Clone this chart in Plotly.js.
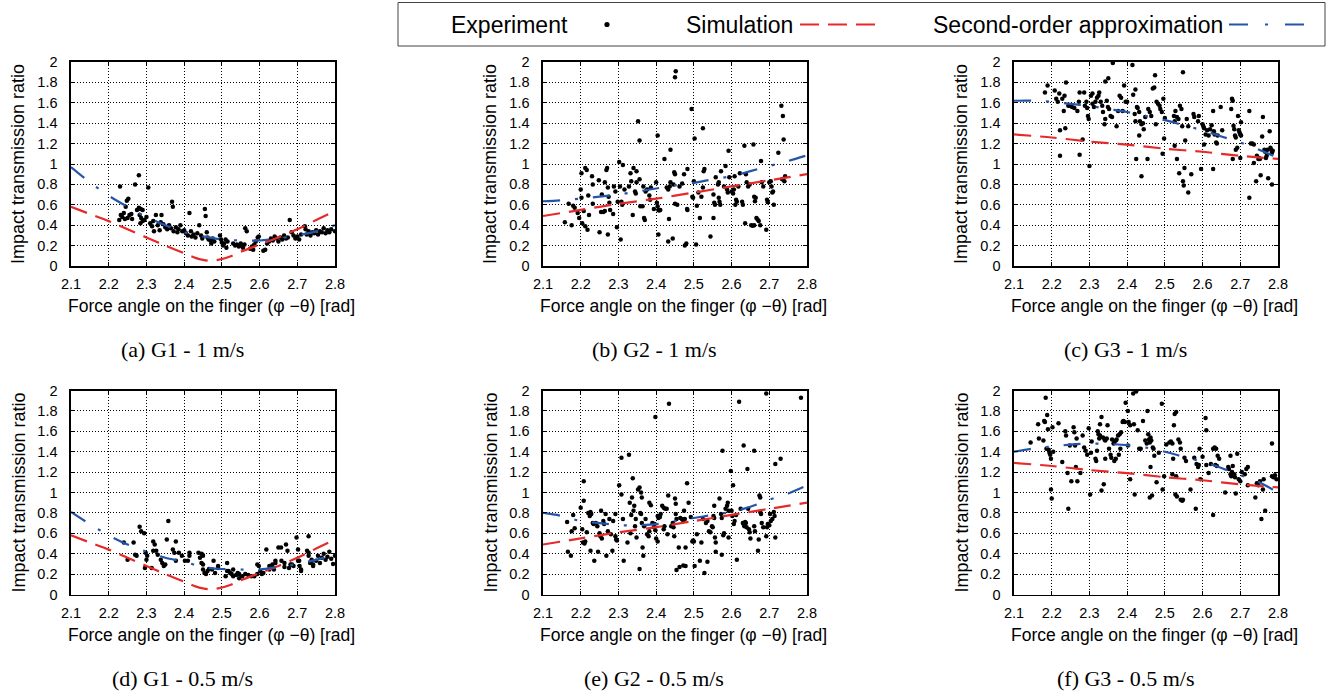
<!DOCTYPE html>
<html><head><meta charset="utf-8">
<script src="https://cdn.plot.ly/plotly-3.0.1.min.js"></script>
<style>
html,body{margin:0;padding:0;background:#fff;overflow:hidden}
#plot{width:1332px;height:693px}
</style></head>
<body><div id="plot"></div>
<script>
// ---------------- DATA ----------------
const CAPTIONS = ["(a) G1 - 1 m/s","(b) G2 - 1 m/s","(c) G3 - 1 m/s","(d) G1 - 0.5 m/s","(e) G2 - 0.5 m/s","(f) G3 - 0.5 m/s"];
const X_TITLE = "Force angle on the finger (\u03c6 \u2212\u03b8) [rad]";
const Y_TITLE = "Impact transmission ratio";
const LEGEND_LABELS = ["Experiment","Simulation","Second-order approximation"];

// Simulation curves
const SIM_G1_X = [2.1,2.15,2.2,2.25,2.3,2.35,2.4,2.43,2.45,2.47,2.49,2.52,2.55,2.6,2.65,2.7,2.75,2.8];
const SIM_G1_Y = [0.58,0.51,0.44,0.36,0.28,0.20,0.125,0.08,0.06,0.05,0.06,0.09,0.14,0.21,0.28,0.36,0.45,0.54];
const SIM_X = [2.1,2.2,2.3,2.4,2.5,2.6,2.7,2.8];
const SIM_G2_Y = [0.49,0.55,0.61,0.66,0.72,0.78,0.84,0.90];
const SIM_G3_Y = [1.29,1.26,1.22,1.19,1.15,1.12,1.08,1.05];

// Second-order approximation curves
const APX_X = [2.1,2.15,2.2,2.25,2.3,2.35,2.4,2.45,2.5,2.55,2.6,2.65,2.7,2.75,2.8];
const APX_A = [0.97,0.82,0.69,0.58,0.48,0.40,0.33,0.29,0.26,0.25,0.25,0.27,0.30,0.34,0.40];
const APX_B = [0.635,0.645,0.66,0.68,0.70,0.73,0.76,0.79,0.815,0.85,0.88,0.93,0.98,1.03,1.085];
const APX_C = [1.62,1.62,1.61,1.59,1.57,1.54,1.51,1.47,1.43,1.38,1.33,1.27,1.21,1.14,1.06];
const APX_D = [0.81,0.69,0.58,0.49,0.42,0.36,0.32,0.27,0.25,0.245,0.245,0.27,0.30,0.34,0.39];
const APX_E = [0.80,0.77,0.72,0.70,0.68,0.68,0.69,0.72,0.75,0.78,0.81,0.86,0.93,0.99,1.07];
const APX_F = [1.40,1.43,1.45,1.47,1.48,1.475,1.465,1.44,1.40,1.35,1.30,1.24,1.17,1.10,1.00];

// Experiment points [angle, ratio]
const EXP_A = [[2.23,0.78],[2.27,0.80],[2.28,0.89],[2.305,0.77],
[2.228,0.45],[2.232,0.50],[2.236,0.48],[2.24,0.52],[2.245,0.58],[2.248,0.64],[2.252,0.66],[2.243,0.46],[2.25,0.47],[2.255,0.50],[2.26,0.51],[2.262,0.46],
[2.275,0.55],[2.28,0.57],[2.285,0.56],[2.29,0.55],[2.282,0.50],[2.286,0.47],[2.29,0.44],[2.295,0.45],[2.30,0.48],[2.284,0.42],
[2.31,0.42],[2.315,0.39],[2.32,0.34],[2.325,0.50],[2.318,0.44],[2.33,0.40],[2.335,0.35],[2.34,0.50],[2.345,0.41],[2.35,0.38],[2.338,0.43],
[2.355,0.36],[2.36,0.40],[2.365,0.37],[2.368,0.63],[2.37,0.58],[2.372,0.34],[2.378,0.38],[2.382,0.33],[2.385,0.36],[2.39,0.40],[2.395,0.34],
[2.40,0.35],[2.405,0.32],[2.41,0.30],[2.414,0.52],[2.418,0.34],[2.42,0.29],[2.425,0.31],[2.43,0.28],[2.435,0.32],[2.44,0.40],[2.445,0.30],[2.448,0.27],
[2.455,0.56],[2.457,0.49],[2.46,0.33],[2.462,0.28],[2.465,0.26],[2.47,0.25],[2.472,0.22],[2.476,0.27],[2.48,0.24],
[2.495,0.30],[2.498,0.26],[2.50,0.23],[2.503,0.20],[2.506,0.22],[2.51,0.26],[2.512,0.18],[2.515,0.24],
[2.53,0.22],[2.535,0.20],[2.54,0.21],[2.545,0.19],[2.55,0.22],[2.553,0.20],[2.556,0.18],[2.56,0.21],[2.562,0.37],[2.566,0.34],
[2.575,0.17],[2.58,0.19],[2.583,0.16],[2.586,0.21],[2.59,0.24],[2.595,0.28],[2.598,0.29],
[2.61,0.15],[2.615,0.16],[2.62,0.22],[2.625,0.24],[2.63,0.27],[2.635,0.25],[2.64,0.29],[2.645,0.27],[2.65,0.24],[2.655,0.28],[2.66,0.26],
[2.665,0.30],[2.67,0.27],[2.675,0.28],[2.68,0.45],[2.685,0.33],[2.69,0.30],[2.695,0.27],[2.70,0.29],[2.705,0.26],[2.71,0.31],
[2.72,0.39],[2.722,0.36],[2.725,0.31],[2.73,0.34],[2.735,0.30],[2.74,0.33],[2.745,0.32],[2.75,0.35],[2.755,0.31],[2.76,0.34],[2.765,0.33],[2.77,0.37],[2.775,0.32],[2.78,0.35],[2.785,0.33],[2.79,0.36],[2.8,0.34]];

const EXP_B = [[2.158,0.43],[2.168,0.61],[2.18,0.59],[2.184,0.57],[2.176,0.40],[2.192,0.52],[2.196,0.47],[2.20,0.75],[2.202,0.67],[2.204,0.42],
[2.202,0.91],[2.212,0.96],[2.216,0.94],[2.208,0.54],[2.212,0.39],[2.218,0.355],[2.22,0.69],[2.222,0.50],[2.23,0.88],[2.232,0.80],[2.232,0.61],
[2.248,0.84],[2.25,0.33],[2.254,0.53],[2.26,0.53],[2.264,0.54],[2.256,0.70],[2.264,0.82],[2.268,0.94],[2.27,0.96],[2.272,0.31],[2.272,0.77],
[2.274,0.68],[2.276,0.62],[2.278,0.55],[2.286,0.51],[2.288,0.78],[2.292,0.73],[2.296,0.38],[2.298,0.63],[2.302,1.02],[2.304,0.78],[2.306,0.26],
[2.308,0.63],[2.31,0.60],[2.312,0.99],[2.316,0.75],[2.328,0.78],[2.332,0.91],[2.334,0.83],[2.338,0.50],[2.34,0.96],[2.344,0.73],[2.346,0.71],
[2.348,0.93],[2.348,0.82],[2.352,1.42],[2.356,1.23],[2.356,0.85],[2.358,0.585],[2.364,0.585],[2.368,0.47],[2.37,0.45],[2.366,0.78],[2.372,0.73],
[2.376,0.75],[2.382,0.69],[2.386,0.77],[2.384,0.65],[2.394,0.56],[2.40,0.82],[2.402,0.62],[2.404,0.585],[2.406,0.55],[2.408,0.545],[2.411,0.55],
[2.404,1.28],[2.406,0.31],[2.422,1.05],[2.428,0.77],[2.432,0.75],[2.436,0.78],[2.438,0.82],[2.434,0.46],[2.432,0.24],[2.438,1.14],[2.444,0.27],
[2.446,0.80],[2.448,0.92],[2.45,0.90],[2.45,1.85],[2.452,1.91],[2.45,0.61],[2.456,0.60],[2.462,0.78],[2.469,0.81],[2.474,0.90],[2.476,0.20],
[2.48,0.22],[2.482,0.56],[2.483,0.55],[2.483,0.95],[2.494,1.54],[2.496,0.68],[2.498,0.67],[2.50,0.83],[2.502,1.25],[2.506,0.21],[2.508,0.59],
[2.512,0.72],[2.516,0.47],[2.52,0.68],[2.524,0.77],[2.524,1.35],[2.526,0.93],[2.528,0.95],[2.544,0.29],[2.552,0.47],[2.552,0.70],[2.554,0.62],
[2.556,0.60],[2.558,0.87],[2.564,0.80],[2.566,0.82],[2.566,0.67],[2.568,0.63],[2.57,0.60],[2.572,0.93],[2.58,0.78],[2.584,0.98],[2.588,0.75],
[2.59,0.72],[2.592,1.13],[2.594,0.87],[2.60,0.73],[2.604,0.71],[2.606,0.75],[2.608,0.88],[2.61,0.60],[2.612,0.65],[2.614,0.63],[2.618,0.78],
[2.622,0.91],[2.628,0.63],[2.63,0.60],[2.634,1.18],[2.636,0.42],[2.638,0.90],[2.64,0.82],[2.644,0.78],[2.648,0.80],[2.652,0.40],[2.656,0.395],
[2.66,0.40],[2.658,1.19],[2.66,0.68],[2.662,0.635],[2.664,0.67],[2.666,0.47],[2.669,0.455],[2.672,0.44],[2.676,0.40],[2.678,1.03],[2.68,0.82],
[2.684,0.78],[2.692,0.355],[2.694,0.65],[2.696,0.625],[2.70,0.82],[2.704,0.83],[2.706,0.78],[2.708,0.72],[2.71,0.73],[2.712,0.60],[2.724,1.11],
[2.732,1.57],[2.736,1.47],[2.738,1.24],[2.734,0.85],[2.74,0.83],[2.742,0.88]];

const EXP_C = [[2.182,1.70],[2.189,1.77],[2.208,1.72],[2.212,1.64],[2.216,1.61],[2.22,1.69],[2.222,1.33],[2.222,1.08],[2.228,1.64],[2.234,1.67],
[2.232,1.52],[2.236,1.35],[2.238,1.80],[2.244,1.57],[2.248,1.57],[2.254,1.56],[2.26,1.55],[2.268,1.52],[2.272,1.61],[2.274,1.70],[2.274,1.09],
[2.282,1.24],[2.286,1.70],[2.288,1.57],[2.292,1.61],[2.294,1.55],[2.296,1.47],[2.298,1.44],[2.30,0.98],[2.304,1.67],[2.308,1.69],[2.308,1.59],
[2.312,1.56],[2.316,1.61],[2.32,1.65],[2.324,1.67],[2.326,1.70],[2.33,1.61],[2.334,1.57],[2.336,1.51],[2.34,1.39],[2.342,1.44],[2.342,1.81],
[2.35,1.84],[2.346,1.62],[2.349,1.56],[2.352,1.54],[2.356,1.47],[2.362,1.99],[2.36,1.46],[2.372,1.37],[2.376,1.52],[2.38,1.67],[2.384,1.65],
[2.388,1.52],[2.392,1.77],[2.396,1.61],[2.40,1.61],[2.414,1.97],[2.416,1.68],[2.42,1.49],[2.422,1.42],[2.422,1.73],[2.424,1.05],[2.426,1.56],
[2.428,1.55],[2.432,1.51],[2.434,1.42],[2.438,1.39],[2.442,1.40],[2.444,1.34],[2.432,1.28],[2.438,0.88],[2.448,1.46],[2.454,1.05],[2.456,1.54],
[2.46,1.51],[2.464,1.47],[2.468,1.74],[2.472,1.75],[2.474,1.87],[2.476,1.39],[2.478,1.61],[2.482,1.59],[2.486,1.57],[2.488,1.54],[2.492,1.51],
[2.494,1.10],[2.496,1.64],[2.498,1.25],[2.50,1.45],[2.524,1.47],[2.526,1.42],[2.528,1.52],[2.532,1.46],[2.536,1.44],[2.526,1.18],[2.532,1.05],
[2.538,0.91],[2.54,1.57],[2.544,1.54],[2.546,1.37],[2.548,1.90],[2.548,0.83],[2.55,0.79],[2.552,0.96],[2.554,1.23],[2.558,1.44],[2.562,1.37],
[2.562,0.72],[2.57,0.90],[2.576,1.49],[2.578,1.46],[2.588,1.42],[2.59,1.47],[2.596,0.95],[2.60,1.39],[2.602,1.37],[2.604,1.35],[2.604,1.19],
[2.608,1.29],[2.612,1.33],[2.616,1.28],[2.62,1.34],[2.624,1.38],[2.628,1.52],[2.628,0.95],[2.63,1.32],[2.632,1.29],[2.636,1.21],[2.638,1.20],
[2.64,1.28],[2.648,1.56],[2.652,1.33],[2.676,1.54],[2.678,1.64],[2.68,1.62],[2.68,1.05],[2.682,1.375],[2.684,1.34],[2.686,1.28],[2.688,1.26],
[2.688,1.14],[2.692,1.16],[2.694,1.47],[2.696,1.33],[2.698,1.31],[2.70,1.29],[2.702,1.28],[2.70,1.06],[2.702,1.41],[2.724,1.52],[2.724,0.67],
[2.728,1.20],[2.732,1.20],[2.736,1.19],[2.736,1.01],[2.742,0.83],[2.744,1.08],[2.748,1.05],[2.75,1.06],[2.752,1.05],[2.754,0.89],[2.76,1.46],
[2.758,1.27],[2.764,1.14],[2.766,1.12],[2.768,1.06],[2.77,1.08],[2.772,1.14],[2.774,0.86],[2.778,1.32],[2.78,1.16],[2.782,1.14],[2.784,1.11],
[2.786,1.13],[2.784,0.80]];

const EXP_D = [[2.282,0.665],[2.286,0.62],[2.294,0.60],[2.266,0.51],[2.27,0.39],[2.274,0.38],[2.25,0.34],[2.24,0.51],[2.298,0.41],[2.302,0.38],
[2.30,0.34],[2.296,0.26],[2.314,0.26],[2.318,0.52],[2.322,0.49],[2.318,0.43],[2.326,0.43],[2.33,0.39],[2.338,0.34],[2.342,0.31],[2.346,0.28],
[2.35,0.295],[2.354,0.54],[2.358,0.72],[2.37,0.44],[2.374,0.41],[2.378,0.33],[2.386,0.41],[2.378,0.52],[2.394,0.38],[2.402,0.33],[2.41,0.33],
[2.414,0.41],[2.414,0.38],[2.438,0.41],[2.446,0.40],[2.449,0.39],[2.442,0.36],[2.45,0.38],[2.446,0.31],[2.45,0.295],[2.45,0.245],[2.454,0.21],
[2.458,0.20],[2.462,0.23],[2.466,0.25],[2.474,0.245],[2.478,0.33],[2.482,0.21],[2.49,0.28],[2.49,0.26],[2.51,0.18],[2.514,0.31],[2.514,0.23],
[2.518,0.23],[2.522,0.21],[2.526,0.20],[2.53,0.18],[2.53,0.245],[2.538,0.19],[2.542,0.21],[2.546,0.16],[2.546,0.20],[2.554,0.18],[2.562,0.20],
[2.57,0.19],[2.578,0.18],[2.586,0.18],[2.594,0.295],[2.598,0.28],[2.594,0.20],[2.602,0.23],[2.606,0.20],[2.61,0.21],[2.618,0.44],[2.626,0.28],
[2.626,0.245],[2.634,0.295],[2.634,0.27],[2.638,0.245],[2.642,0.33],[2.642,0.31],[2.65,0.46],[2.657,0.46],[2.67,0.49],[2.674,0.43],[2.658,0.33],
[2.666,0.31],[2.666,0.27],[2.678,0.26],[2.682,0.295],[2.686,0.295],[2.69,0.28],[2.698,0.56],[2.702,0.44],[2.702,0.33],[2.705,0.33],[2.706,0.28],
[2.71,0.245],[2.71,0.23],[2.726,0.43],[2.73,0.57],[2.73,0.41],[2.73,0.38],[2.734,0.31],[2.738,0.34],[2.738,0.33],[2.742,0.28],[2.742,0.295],
[2.75,0.33],[2.755,0.38],[2.76,0.31],[2.765,0.36],[2.77,0.40],[2.775,0.34],[2.78,0.37],[2.785,0.42],[2.79,0.35],[2.795,0.30],[2.8,0.38]];

const EXP_E = [[2.164,0.71],[2.166,0.42],[2.174,0.38],[2.176,0.62],[2.18,0.78],[2.184,0.65],[2.20,0.85],[2.204,0.64],[2.206,0.51],[2.21,0.50],
[2.212,0.52],[2.208,1.11],[2.208,0.92],[2.216,0.61],[2.22,0.80],[2.224,0.77],[2.226,0.81],[2.228,0.79],[2.226,0.43],[2.232,0.70],[2.234,0.69],
[2.236,0.33],[2.24,0.70],[2.244,0.67],[2.246,0.42],[2.25,0.60],[2.252,0.57],[2.254,0.82],[2.256,0.55],[2.26,0.72],[2.262,0.69],[2.266,0.79],
[2.268,0.38],[2.272,0.62],[2.276,0.74],[2.28,0.59],[2.284,0.43],[2.286,0.72],[2.292,0.79],[2.292,0.57],[2.294,0.54],[2.296,0.53],[2.302,1.07],
[2.308,1.34],[2.308,0.98],[2.312,0.74],[2.314,0.33],[2.324,0.51],[2.328,1.37],[2.33,0.90],[2.332,0.60],[2.334,0.78],[2.336,0.95],[2.338,1.14],
[2.34,0.82],[2.342,0.87],[2.344,0.67],[2.346,0.74],[2.348,0.56],[2.352,1.03],[2.356,1.05],[2.36,1.00],[2.356,0.25],[2.358,0.80],[2.36,0.79],
[2.362,0.70],[2.362,0.95],[2.364,0.46],[2.366,0.38],[2.368,0.67],[2.372,0.74],[2.376,0.59],[2.38,0.57],[2.382,0.62],[2.382,0.90],[2.386,0.875],
[2.39,0.70],[2.394,0.66],[2.396,0.69],[2.398,0.63],[2.398,1.74],[2.40,0.55],[2.404,0.52],[2.404,0.77],[2.406,0.75],[2.41,0.76],[2.412,0.79],
[2.416,0.87],[2.42,0.85],[2.424,0.84],[2.428,0.84],[2.42,0.64],[2.422,0.67],[2.43,0.59],[2.432,0.97],[2.434,1.87],[2.44,0.67],[2.444,0.70],
[2.446,0.66],[2.448,0.57],[2.45,0.94],[2.452,0.89],[2.452,0.79],[2.454,0.74],[2.454,0.24],[2.46,0.46],[2.462,0.27],[2.472,0.285],[2.478,0.28],
[2.464,0.75],[2.468,0.74],[2.472,0.72],[2.476,0.74],[2.474,0.82],[2.478,0.46],[2.482,1.09],[2.486,0.90],[2.492,0.76],[2.496,0.52],[2.498,0.53],
[2.50,0.52],[2.502,0.28],[2.508,0.59],[2.516,0.33],[2.52,0.51],[2.524,0.74],[2.528,0.21],[2.532,0.70],[2.536,0.72],[2.536,0.32],[2.54,0.62],
[2.544,0.61],[2.548,0.67],[2.55,0.66],[2.552,0.77],[2.554,0.75],[2.554,0.87],[2.556,0.56],[2.558,0.51],[2.558,0.42],[2.568,0.94],[2.572,0.79],
[2.574,0.75],[2.574,0.39],[2.576,1.41],[2.578,0.58],[2.58,0.60],[2.584,0.84],[2.588,0.87],[2.59,0.90],[2.592,0.82],[2.592,0.56],[2.598,1.21],
[2.60,0.82],[2.602,0.77],[2.604,1.07],[2.606,0.69],[2.608,0.72],[2.612,0.78],[2.614,0.34],[2.62,1.89],[2.624,0.84],[2.63,0.70],[2.632,0.69],
[2.634,0.67],[2.636,0.71],[2.638,0.70],[2.64,0.66],[2.632,1.46],[2.642,1.23],[2.644,0.84],[2.646,0.64],[2.648,0.61],[2.65,0.55],[2.66,1.41],
[2.66,0.67],[2.662,0.62],[2.67,0.43],[2.672,0.54],[2.674,0.97],[2.676,0.95],[2.676,0.81],[2.678,0.79],[2.68,0.70],[2.684,0.66],[2.692,0.57],
[2.694,0.66],[2.692,1.97],[2.696,0.69],[2.70,0.68],[2.702,0.79],[2.704,0.72],[2.708,0.74],[2.716,1.28],[2.712,0.81],[2.714,0.77],[2.716,0.56],
[2.73,1.33],[2.784,1.93]];

const EXP_F = [[2.144,1.49],[2.164,1.67],[2.166,1.53],[2.178,1.51],[2.18,1.70],[2.182,1.69],[2.184,1.93],[2.186,1.43],[2.188,1.76],[2.19,1.62],
[2.192,1.42],[2.194,1.39],[2.196,1.37],[2.198,1.33],[2.198,1.03],[2.20,0.94],[2.202,1.64],[2.204,1.40],[2.218,1.68],[2.228,1.30],[2.236,1.60],
[2.238,1.56],[2.242,1.19],[2.244,0.84],[2.248,1.46],[2.252,1.11],[2.258,1.64],[2.26,1.59],[2.262,1.46],[2.264,1.25],[2.266,1.53],[2.268,1.11],
[2.276,1.19],[2.282,1.56],[2.286,1.44],[2.29,1.41],[2.294,1.37],[2.298,1.63],[2.302,0.98],[2.304,1.39],[2.306,1.50],[2.316,1.33],[2.32,1.41],
[2.318,1.31],[2.322,1.60],[2.324,1.57],[2.326,1.53],[2.328,1.56],[2.328,1.67],[2.332,1.74],[2.332,1.02],[2.336,1.54],[2.34,1.52],[2.342,1.51],
[2.346,1.53],[2.338,1.08],[2.342,1.33],[2.348,1.66],[2.352,1.43],[2.356,1.37],[2.358,1.34],[2.36,1.52],[2.364,1.48],[2.366,1.49],[2.37,1.51],
[2.372,1.52],[2.366,1.31],[2.37,1.33],[2.376,1.56],[2.38,1.57],[2.384,1.59],[2.378,1.37],[2.382,1.43],[2.388,1.69],[2.39,1.70],[2.394,1.69],
[2.396,1.88],[2.402,1.46],[2.402,1.80],[2.404,1.69],[2.408,1.66],[2.408,1.13],[2.416,1.97],[2.418,1.67],[2.42,0.98],[2.424,1.99],[2.428,1.61],
[2.432,1.43],[2.436,1.43],[2.442,1.70],[2.448,1.51],[2.452,1.48],[2.454,1.80],[2.456,1.57],[2.458,1.52],[2.46,1.49],[2.462,1.54],[2.464,1.51],
[2.46,0.95],[2.462,1.25],[2.466,0.97],[2.468,1.44],[2.47,1.43],[2.472,1.36],[2.478,1.10],[2.484,1.39],[2.492,1.87],[2.494,1.03],[2.498,1.16],
[2.504,1.47],[2.512,1.49],[2.516,1.50],[2.52,1.48],[2.52,1.18],[2.522,1.33],[2.524,1.66],[2.526,1.77],[2.53,1.79],[2.528,0.98],[2.532,0.96],
[2.53,1.16],[2.536,1.52],[2.54,1.49],[2.542,1.43],[2.542,0.93],[2.546,0.92],[2.548,0.93],[2.552,1.34],[2.556,1.31],[2.568,1.03],[2.578,1.34],
[2.582,0.84],[2.584,1.28],[2.588,1.25],[2.59,1.27],[2.592,1.43],[2.594,1.13],[2.60,1.35],[2.608,1.73],[2.61,1.61],[2.61,1.27],[2.616,1.19],
[2.622,1.28],[2.628,0.78],[2.628,1.43],[2.632,1.44],[2.636,1.43],[2.634,1.27],[2.638,1.26],[2.64,1.36],[2.644,1.33],[2.66,1.00],[2.668,1.25],
[2.67,1.23],[2.674,1.18],[2.676,1.16],[2.678,1.20],[2.68,1.26],[2.674,1.36],[2.684,1.18],[2.686,1.15],[2.688,0.99],[2.692,1.38],[2.696,1.13],
[2.70,1.11],[2.704,1.20],[2.712,1.18],[2.716,1.23],[2.72,1.25],[2.72,1.07],[2.74,0.95],[2.744,1.09],[2.748,1.07],[2.752,1.11],[2.756,0.74],
[2.76,1.03],[2.762,1.13],[2.766,0.82],[2.784,1.48],[2.784,1.16],[2.788,1.15],[2.792,1.17],[2.796,1.13]];

const X_RANGE = [2.1, 2.8];
const Y_RANGE = [0, 2];

// ---------------- STYLE / LAYOUT ----------------
const W = 1332, H = 693;
const RED = '#e62a2a', BLUE = '#2455a8';
const colL = [71, 543, 1014], plotW = 264;
const rowTop = [62, 390.5], plotH = 204;
const SANS = 'Liberation Sans, Arial, sans-serif';
const SERIF = 'Liberation Serif, Times New Roman, serif';

const panels = [
  {exp: EXP_A, simX: SIM_G1_X, simY: SIM_G1_Y, apx: APX_A},
  {exp: EXP_B, simX: SIM_X, simY: SIM_G2_Y, apx: APX_B},
  {exp: EXP_C, simX: SIM_X, simY: SIM_G3_Y, apx: APX_C},
  {exp: EXP_D, simX: SIM_G1_X, simY: SIM_G1_Y, apx: APX_D},
  {exp: EXP_E, simX: SIM_X, simY: SIM_G2_Y, apx: APX_E},
  {exp: EXP_F, simX: SIM_X, simY: SIM_G3_Y, apx: APX_F}
];

const traces = [];
const layout = {
  width: W, height: H, margin: {l:0, r:0, t:0, b:0},
  paper_bgcolor: '#fff', plot_bgcolor: '#fff', showlegend: false,
  font: {family: SANS, color: '#000'},
  annotations: [], shapes: []
};

panels.forEach((p, i) => {
  const r = Math.floor(i / 3), c = i % 3;
  const n = i + 1;
  const xa = 'x' + (n === 1 ? '' : n), ya = 'y' + (n === 1 ? '' : n);
  const xk = 'xaxis' + (n === 1 ? '' : n), yk = 'yaxis' + (n === 1 ? '' : n);
  const x0 = colL[c], y0 = rowTop[r];
  const axBase = {
    showline: true, linecolor: '#000', linewidth: 1.6, mirror: 'allticks',
    ticks: 'inside', ticklen: 4, tickwidth: 1, tickcolor: '#000',
    showgrid: true, gridcolor: '#000', gridwidth: 1, griddash: '1px,2px',
    zeroline: false, tickfont: {family: SANS, size: 14.5, color: '#000'},
    fixedrange: true
  };
  layout[xk] = Object.assign({}, axBase, {
    domain: [x0 / W, (x0 + plotW) / W], anchor: ya, range: X_RANGE,
    tickmode: 'linear', tick0: 2.1, dtick: 0.1, ticklabelstandoff: 4
  });
  layout[yk] = Object.assign({}, axBase, {
    domain: [1 - (y0 + plotH) / H, 1 - y0 / H], anchor: xa, range: Y_RANGE,
    tickmode: 'linear', tick0: 0, dtick: 0.2, ticklabelstandoff: 9
  });
  traces.push({
    type: 'scatter', mode: 'markers', xaxis: xa, yaxis: ya,
    x: p.exp.map(d => d[0]), y: p.exp.map(d => d[1]),
    marker: {color: '#000', size: 4.5, line: {width: 0}}, name: LEGEND_LABELS[0]
  });
  traces.push({
    type: 'scatter', mode: 'lines', xaxis: xa, yaxis: ya,
    x: p.simX, y: p.simY, name: LEGEND_LABELS[1],
    line: {color: RED, width: 2.2, dash: '17px,9px', shape: 'spline', smoothing: 0.8}
  });
  traces.push({
    type: 'scatter', mode: 'lines', xaxis: xa, yaxis: ya,
    x: APX_X, y: p.apx, name: LEGEND_LABELS[2],
    line: {color: BLUE, width: 2.2, dash: '17px,15px,3px,15px', shape: 'spline', smoothing: 0.8}
  });
  // axis titles
  layout.annotations.push({
    xref: 'paper', yref: 'paper', showarrow: false,
    x: (x0 + plotW / 2 + 8) / W, y: 1 - (y0 + plotH + 40) / H,
    xanchor: 'center', yanchor: 'middle', text: X_TITLE,
    font: {family: SANS, size: 17.5, color: '#000'}
  });
  layout.annotations.push({
    xref: 'paper', yref: 'paper', showarrow: false, textangle: -90,
    x: (x0 - 53) / W, y: 1 - (y0 + plotH / 2) / H,
    xanchor: 'center', yanchor: 'middle', text: Y_TITLE,
    font: {family: SANS, size: 18, color: '#000'}
  });
  layout.annotations.push({
    xref: 'paper', yref: 'paper', showarrow: false,
    x: (x0 + 111) / W, y: 1 - (y0 + 287.5) / H,
    xanchor: 'center', yanchor: 'middle', text: CAPTIONS[i],
    font: {family: SERIF, size: 22, color: '#000'}
  });
});

// legend (text then glyph, gnuplot style)
const LY = 1 - 24.5 / H;
layout.shapes.push({type: 'rect', xref: 'paper', yref: 'paper',
  x0: 398 / W, x1: 1325 / W, y0: 1 - 46 / H, y1: 1 - 2.5 / H,
  line: {color: '#444', width: 1}, fillcolor: 'rgba(0,0,0,0)'});
[[LEGEND_LABELS[0], 570], [LEGEND_LABELS[1], 795], [LEGEND_LABELS[2], 1225]].forEach(t => {
  layout.annotations.push({xref: 'paper', yref: 'paper', showarrow: false,
    x: t[1] / W, y: LY, xanchor: 'right', yanchor: 'middle', text: t[0],
    font: {family: SANS, size: 23, color: '#000'}});
});
layout.shapes.push({type: 'circle', xref: 'paper', yref: 'paper',
  xsizemode: 'pixel', ysizemode: 'pixel', xanchor: 607 / W, yanchor: LY,
  x0: -2.6, x1: 2.6, y0: -2.6, y1: 2.6, fillcolor: '#000', line: {width: 0}});
layout.shapes.push({type: 'line', xref: 'paper', yref: 'paper',
  x0: 800 / W, x1: 876 / W, y0: LY, y1: LY,
  line: {color: RED, width: 2.2, dash: '19px,9px'}});
layout.shapes.push({type: 'line', xref: 'paper', yref: 'paper',
  x0: 1229 / W, x1: 1310 / W, y0: LY, y1: LY,
  line: {color: BLUE, width: 2.2, dash: '19px,17px,3px,17px'}});

Plotly.newPlot('plot', traces, layout, {staticPlot: true, displayModeBar: false});
</script>
</body></html>
